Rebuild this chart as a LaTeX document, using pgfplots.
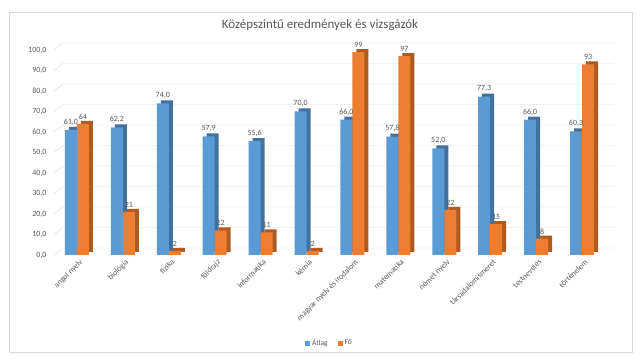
\documentclass[border=0pt]{standalone}
\usepackage{fontspec}
\setmainfont{Carlito}
\usepackage{pgfplots}
\pgfplotsset{compat=1.18}
\definecolor{blueF}{HTML}{5B9BD5}
\definecolor{blueS}{HTML}{41719C}
\definecolor{orF}{HTML}{ED7D31}
\definecolor{orS}{HTML}{AE5A21}
\definecolor{txt}{HTML}{595959}
\definecolor{gridc}{HTML}{D9D9D9}
\begin{document}
\begin{tikzpicture}
\path (0bp,0bp) rectangle (640bp,360bp);
\draw[gridc] (9bp,8bp) rectangle (632bp,348bp);
\node[text=txt, font=\fontsize{13}{13}\selectfont] at (320bp,335bp) {Középszintű eredmények és vizsgázók};
\begin{axis}[
  at={(54bp,105bp)}, anchor=south west,
  scale only axis, width=551bp, height=205bp,
  set layers,
  xmin=-0.5, xmax=11.5, ymin=0, ymax=100,
  ytick={0,10,...,100},
  xtick={0,...,11},
  xticklabels={angol nyelv, biológia, fizika, földrajz, informatika, kémia, magyar nyelv és irodalom, matematika, német nyelv, társadalomismeret, testnevelés, történelem},
  axis line style={draw=none},
  major tick length=0pt,
  ybar, bar width=12bp,
  tick label style={font=\fontsize{8}{8}\selectfont, text=txt},
  /pgf/number format/assume math mode=true,
  yticklabel style={/pgf/number format/.cd, fixed, zerofill, precision=1, use comma, /tikz/.cd, xshift=-4bp},
  xticklabel style={rotate=45, anchor=north east, inner sep=1bp, yshift=-3bp},
  legend style={at={(0.5,-0.43)}, anchor=center, draw=none, fill=none, legend columns=2,
    font=\fontsize{7.5}{8}\selectfont, text=txt,
    /tikz/every even column/.append style={column sep=8bp}},
  legend image code/.code={\fill[#1] (0bp,-2.5bp) rectangle (5bp,2.5bp);},
  clip=false,
]
\begin{pgfonlayer}{axis background}
\pgfplotsinvokeforeach{0,10,...,100}{
  \draw[gridc] (axis cs:-0.5,#1) -- ([xshift=9bp,yshift=7bp]axis cs:-0.5,#1) -- ([xshift=9bp,yshift=7bp]axis cs:11.5,#1);
}
\end{pgfonlayer}
% Átlag shadow
\addplot[ybar, fill=blueS, draw=none, bar width=12bp, bar shift=-6bp, xshift=4bp, yshift=3bp, forget plot]
  coordinates {(0,61.0) (1,62.2) (2,74.0) (3,57.9) (4,55.6) (5,70.0) (6,66.0) (7,57.8) (8,52.0) (9,77.3) (10,66.0) (11,60.3)};
% Átlag
\addplot[ybar, fill=blueF, draw=none, bar width=12bp, bar shift=-6bp,
  nodes near coords={\pgfmathprintnumber[fixed,zerofill,precision=1,use comma]{\pgfplotspointmeta}},
  nodes near coords style={font=\fontsize{8}{8}\selectfont, text=txt, yshift=1bp}]
  coordinates {(0,61.0) (1,62.2) (2,74.0) (3,57.9) (4,55.6) (5,70.0) (6,66.0) (7,57.8) (8,52.0) (9,77.3) (10,66.0) (11,60.3)};
\addlegendentry{Átlag}
% Fő shadow
\addplot[ybar, fill=orS, draw=none, bar width=12bp, bar shift=6bp, xshift=4bp, yshift=3bp, forget plot]
  coordinates {(0,64) (1,21) (2,2) (3,12) (4,11) (5,2) (6,99) (7,97) (8,22) (9,15) (10,8) (11,93)};
% Fő
\addplot[ybar, fill=orF, draw=none, bar width=12bp, bar shift=6bp,
  nodes near coords={\pgfmathprintnumber[fixed,precision=0]{\pgfplotspointmeta}},
  nodes near coords style={font=\fontsize{8}{8}\selectfont, text=txt, yshift=1bp}]
  coordinates {(0,64) (1,21) (2,2) (3,12) (4,11) (5,2) (6,99) (7,97) (8,22) (9,15) (10,8) (11,93)};
\addlegendentry{Fő}
\end{axis}
\end{tikzpicture}
\end{document}
